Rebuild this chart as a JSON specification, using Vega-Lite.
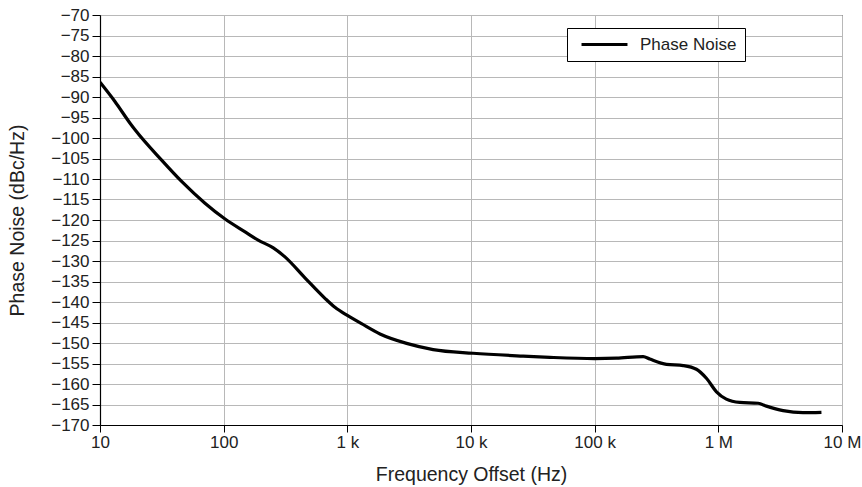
{
  "$schema": "https://vega.github.io/schema/vega-lite/v6.json",
  "width": 742,
  "height": 410,
  "autosize": {"type": "none"},
  "padding": {"left": 100, "top": 15, "right": 20, "bottom": 62},
  "background": "white",
  "config": {
    "font": "Liberation Sans",
    "view": {"stroke": "black", "strokeWidth": 1}
  },
  "data": {
    "values": [
      {"f": 10, "pn": -86.4, "s": "Phase Noise"},
      {"f": 13.2, "pn": -91.1, "s": "Phase Noise"},
      {"f": 17.5, "pn": -96.4, "s": "Phase Noise"},
      {"f": 19.2, "pn": -98.0, "s": "Phase Noise"},
      {"f": 31.5, "pn": -105.4, "s": "Phase Noise"},
      {"f": 45.7, "pn": -110.6, "s": "Phase Noise"},
      {"f": 70.6, "pn": -115.9, "s": "Phase Noise"},
      {"f": 102, "pn": -119.7, "s": "Phase Noise"},
      {"f": 149, "pn": -122.9, "s": "Phase Noise"},
      {"f": 190, "pn": -124.9, "s": "Phase Noise"},
      {"f": 252, "pn": -126.8, "s": "Phase Noise"},
      {"f": 313, "pn": -129.0, "s": "Phase Noise"},
      {"f": 454, "pn": -134.1, "s": "Phase Noise"},
      {"f": 659, "pn": -139.1, "s": "Phase Noise"},
      {"f": 794, "pn": -141.3, "s": "Phase Noise"},
      {"f": 1016, "pn": -143.4, "s": "Phase Noise"},
      {"f": 1303, "pn": -145.3, "s": "Phase Noise"},
      {"f": 1837, "pn": -147.8, "s": "Phase Noise"},
      {"f": 3015, "pn": -150.1, "s": "Phase Noise"},
      {"f": 4945, "pn": -151.6, "s": "Phase Noise"},
      {"f": 10400, "pn": -152.5, "s": "Phase Noise"},
      {"f": 26400, "pn": -153.2, "s": "Phase Noise"},
      {"f": 43400, "pn": -153.5, "s": "Phase Noise"},
      {"f": 100000, "pn": -153.8, "s": "Phase Noise"},
      {"f": 150000, "pn": -153.7, "s": "Phase Noise"},
      {"f": 247000, "pn": -153.3, "s": "Phase Noise"},
      {"f": 279000, "pn": -153.9, "s": "Phase Noise"},
      {"f": 381000, "pn": -155.2, "s": "Phase Noise"},
      {"f": 520000, "pn": -155.5, "s": "Phase Noise"},
      {"f": 665000, "pn": -156.4, "s": "Phase Noise"},
      {"f": 801000, "pn": -158.6, "s": "Phase Noise"},
      {"f": 966000, "pn": -161.9, "s": "Phase Noise"},
      {"f": 1160000, "pn": -163.7, "s": "Phase Noise"},
      {"f": 1490000, "pn": -164.5, "s": "Phase Noise"},
      {"f": 2100000, "pn": -164.7, "s": "Phase Noise"},
      {"f": 2450000, "pn": -165.4, "s": "Phase Noise"},
      {"f": 3340000, "pn": -166.5, "s": "Phase Noise"},
      {"f": 4840000, "pn": -167.0, "s": "Phase Noise"},
      {"f": 6820000, "pn": -166.9, "s": "Phase Noise"}
    ]
  },
  "mark": {"type": "line", "interpolate": "monotone", "strokeWidth": 3.2, "clip": true},
  "encoding": {
    "x": {
      "field": "f",
      "type": "quantitative",
      "scale": {"type": "log", "domain": [10, 10000000], "nice": false},
      "axis": {
        "title": "Frequency Offset (Hz)",
        "values": [10, 100, 1000, 10000, 100000, 1000000, 10000000],
        "labelExpr": "datum.value >= 1000000 ? (datum.value/1000000) + ' M' : datum.value >= 1000 ? (datum.value/1000) + ' k' : datum.value + ''",
        "labelFlush": false,
        "labelBound": false,
        "labelOverlap": false,
        "grid": true,
        "gridColor": "#b8b8b8",
        "gridWidth": 1,
        "gridOpacity": 1,
        "domainColor": "black",
        "domainWidth": 1.2,
        "tickColor": "black",
        "tickSize": 7,
        "labelFontSize": 17,
        "labelColor": "#222",
        "labelPadding": 2,
        "titleFontSize": 19.5,
        "titleFontWeight": "normal",
        "titleColor": "#222",
        "titlePadding": 15
      }
    },
    "y": {
      "field": "pn",
      "type": "quantitative",
      "scale": {"domain": [-170, -70], "nice": false, "zero": false},
      "axis": {
        "title": "Phase Noise (dBc/Hz)",
        "values": [-70, -75, -80, -85, -90, -95, -100, -105, -110, -115, -120, -125, -130, -135, -140, -145, -150, -155, -160, -165, -170],
        "labelExpr": "'\u2212' + abs(datum.value)",
        "labelFlush": false,
        "labelBound": false,
        "labelOverlap": false,
        "grid": true,
        "gridColor": "#b8b8b8",
        "gridWidth": 1,
        "gridOpacity": 1,
        "domainColor": "black",
        "domainWidth": 1.2,
        "tickColor": "black",
        "tickSize": 8,
        "labelFontSize": 17,
        "labelColor": "#222",
        "labelPadding": 3,
        "titleFontSize": 19.5,
        "titleFontWeight": "normal",
        "titleColor": "#222",
        "titlePadding": 23
      }
    },
    "color": {
      "field": "s",
      "type": "nominal",
      "scale": {"range": ["black"]},
      "legend": {
        "title": null,
        "orient": "none",
        "legendX": 467,
        "legendY": 13,
        "symbolType": "M-4,0H4",
        "symbolStrokeWidth": 3,
        "symbolSize": 132,
        "symbolOffset": 21,
        "labelFontSize": 17,
        "labelColor": "#222",
        "labelOffset": 27,
        "strokeColor": "black",
        "fillColor": "white",
        "padding": 8,
        "labelLimit": 300
      }
    }
  }
}
